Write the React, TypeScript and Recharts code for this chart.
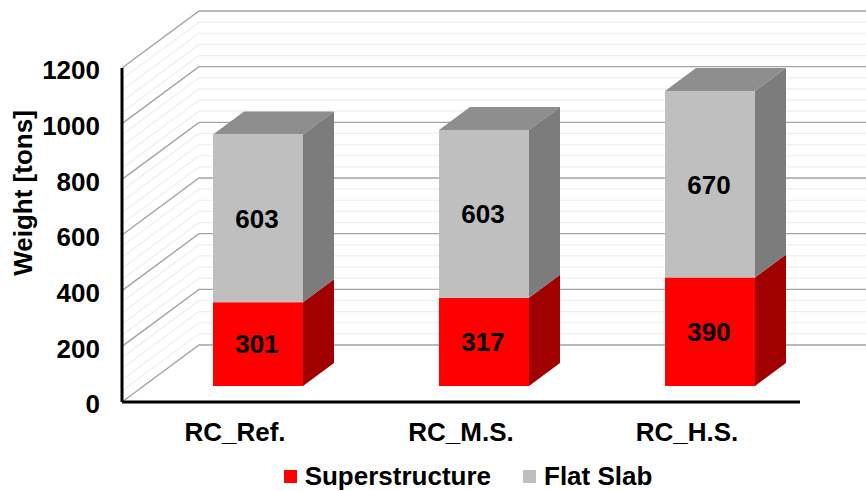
import { Bar, BarChart, CartesianGrid, LabelList, Legend, XAxis, YAxis } from "recharts";

const categories = ["RC_Ref.", "RC_M.S.", "RC_H.S."];
const superstructure = [301, 317, 390];
const flatSlab = [603, 603, 670];
const yTicks = [0, 200, 400, 600, 800, 1000, 1200];
const minorTicks = [40, 80, 120, 160, 240, 280, 320, 360, 440, 480, 520, 560, 640, 680, 720, 760, 840, 880, 920, 960, 1040, 1080, 1120, 1160];

const data = categories.map((name, i) => ({
  name,
  Superstructure: superstructure[i],
  "Flat Slab": flatSlab[i],
}));

const font = "'Liberation Sans', Arial, sans-serif";
const chartWidth = 866;
// fake 3d: depth of the walls and where the columns sit inside it
const wall = { dx: 77, dy: -57 };
const shift = { dx: 23, dy: -16 };
const depth = { dx: 31, dy: -23 };

function wallLine(stroke: string, strokeWidth: number) {
  return (props: any) => {
    const { x1, y1, index } = props;
    const bx = x1 + wall.dx;
    const by = y1 + wall.dy;
    return (
      <polyline
        key={index}
        points={`${x1},${y1} ${bx},${by} ${chartWidth},${by}`}
        fill="none"
        stroke={stroke}
        strokeWidth={strokeWidth}
      />
    );
  };
}

function column(front: string, side: string, top?: string) {
  return (props: any) => {
    const x = props.x + shift.dx;
    const y = props.y + shift.dy;
    const { width, height } = props;
    const r = x + width;
    const b = y + height;
    return (
      <g>
        {top && (
          <polygon points={`${x},${y} ${x + depth.dx},${y + depth.dy} ${r + depth.dx},${y + depth.dy} ${r},${y}`} fill={top} />
        )}
        <polygon points={`${r},${y} ${r + depth.dx},${y + depth.dy} ${r + depth.dx},${b + depth.dy} ${r},${b}`} fill={side} />
        <rect x={x} y={y} width={width} height={height} fill={front} />
      </g>
    );
  };
}

function valueLabel(props: any) {
  const { x, y, width, height, value, index } = props;
  return (
    <text
      key={index}
      x={x + shift.dx + width / 2 - 1}
      y={y + shift.dy + height / 2}
      dy="0.36em"
      textAnchor="middle"
      fontFamily={font}
      fontWeight="bold"
      fontSize={26}
      fill="#000"
    >
      {value}
    </text>
  );
}

function legendContent({ payload }: any) {
  return (
    <div style={{ display: "flex", justifyContent: "center", alignItems: "center", fontFamily: font, fontWeight: "bold", fontSize: 26, lineHeight: "30px", color: "#000" }}>
      {(payload || []).map((item: any, i: number) => (
        <span key={item.value} style={{ display: "flex", alignItems: "center", marginLeft: i ? 32 : 0 }}>
          <span style={{ width: 13, height: 13, background: item.color, marginRight: 8 }} />
          {item.value}
        </span>
      ))}
    </div>
  );
}

export default function App() {
  return (
    <div style={{ position: "absolute", left: 0, top: 0, width: 866, height: 491, background: "#fff", fontFamily: font }}>
      <BarChart
        width={chartWidth}
        height={491}
        data={data}
        margin={{ top: 68, right: 66, bottom: 0, left: 0 }}
        style={{ fontFamily: font }}
      >
        <CartesianGrid vertical={false} horizontalValues={minorTicks} horizontal={wallLine("#eeeeee", 1.2)} />
        <CartesianGrid vertical={false} horizontalValues={yTicks} horizontal={wallLine("#a3a3a3", 1.4)} />
        <XAxis
          dataKey="name"
          height={59}
          axisLine={{ stroke: "#000", strokeWidth: 3 }}
          tickLine={false}
          tickMargin={15}
          tick={{ fontSize: 26, fontWeight: "bold", fill: "#000" }}
        />
        <YAxis
          width={122}
          domain={[0, 1200]}
          ticks={yTicks}
          interval={0}
          axisLine={{ stroke: "#000", strokeWidth: 3 }}
          tickLine={false}
          tickSize={0}
          tickMargin={22}
          tick={{ fontSize: 26, fontWeight: "bold", fill: "#000", dy: 2 }}
          label={{
            value: "Weight [tons]",
            angle: -90,
            position: "insideLeft",
            dx: 18,
            dy: -42,
            style: { fontSize: 26, fontWeight: "bold", fill: "#000", textAnchor: "middle" },
          }}
        />
        <Legend
          verticalAlign="bottom"
          itemSorter={null}
          content={legendContent}
          wrapperStyle={{ position: "absolute", left: 0, width: 936, top: 461, bottom: "auto" }}
        />
        <Bar
          dataKey="Superstructure"
          stackId="a"
          fill="#ff0000"
          barSize={90}
          isAnimationActive={false}
          shape={column("#ff0000", "#a00000")}
        >
          <LabelList dataKey="Superstructure" content={valueLabel} />
        </Bar>
        <Bar
          dataKey="Flat Slab"
          stackId="a"
          fill="#bfbfbf"
          barSize={90}
          isAnimationActive={false}
          shape={column("#bfbfbf", "#7c7c7c", "#8e8e8e")}
        >
          <LabelList dataKey="Flat Slab" content={valueLabel} />
        </Bar>
      </BarChart>
    </div>
  );
}
